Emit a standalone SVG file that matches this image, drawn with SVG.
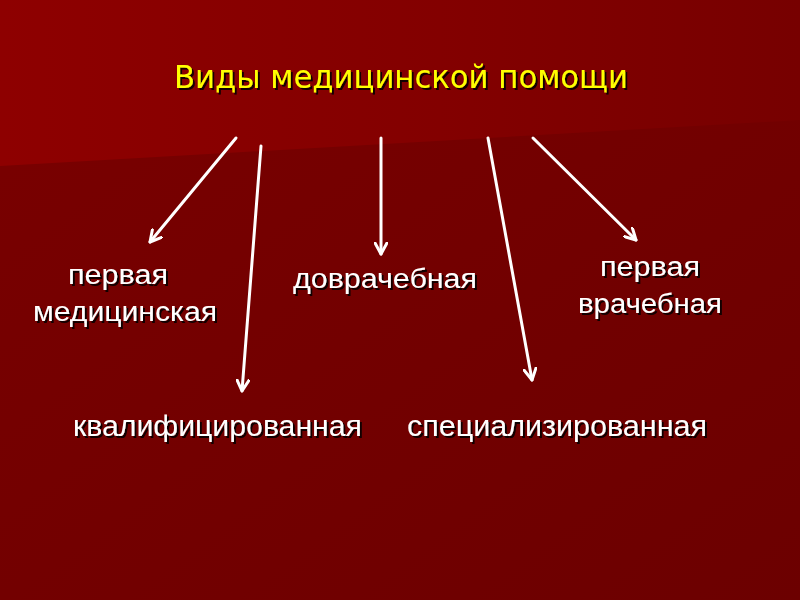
<svg xmlns="http://www.w3.org/2000/svg" width="800" height="600" viewBox="0 0 800 600">
<defs>
<linearGradient id="bg" x1="0" y1="0" x2="1" y2="1">
<stop offset="0" stop-color="#7a0000"/>
<stop offset="1" stop-color="#6c0000"/>
</linearGradient>
<linearGradient id="band" x1="0" y1="0" x2="1" y2="0">
<stop offset="0" stop-color="#8e0000"/>
<stop offset="0.55" stop-color="#830000"/>
<stop offset="1" stop-color="#770000"/>
</linearGradient>
<filter id="sh" x="-10%" y="-30%" width="120%" height="160%">
<feDropShadow dx="2" dy="2" stdDeviation="0.6" flood-color="#000" flood-opacity="0.85"/>
</filter>
<marker id="ah" markerWidth="14" markerHeight="14" refX="12" refY="7" orient="auto" markerUnits="userSpaceOnUse">
<path d="M1,1 L12,7 L1,13" fill="none" stroke="#fff" stroke-width="3" stroke-linecap="round" stroke-linejoin="round"/>
</marker>
<style>
.t{font-family:"Liberation Sans",Arial,sans-serif;font-size:27px;fill:#fff;filter:url(#sh)}
.b{font-size:30px}
.title{font-family:"DejaVu Sans Condensed","DejaVu Sans",Tahoma,sans-serif;font-size:32px;fill:#ffff00;filter:url(#sh)}
.c line{stroke:#fff;stroke-width:3;stroke-linecap:round;marker-end:url(#ah)}
</style>
</defs>
<rect width="800" height="600" fill="url(#bg)"/>
<polygon points="0,0 800,0 800,120 0,166" fill="url(#band)"/>
<g id="title"><text class="title" x="174" y="88" textLength="454" lengthAdjust="spacingAndGlyphs">Виды медицинской помощи</text></g>
<g class="c" id="connectors">
<line x1="236" y1="138" x2="150" y2="242"/>
<line x1="261" y1="146" x2="242" y2="391"/>
<line x1="381" y1="138" x2="381" y2="254"/>
<line x1="488" y1="138" x2="532" y2="380"/>
<line x1="533" y1="138" x2="636" y2="240"/>
</g>
<g id="n1"><text class="t" x="68" y="284" textLength="100" lengthAdjust="spacingAndGlyphs">первая</text><text class="t" x="33" y="321" textLength="184" lengthAdjust="spacingAndGlyphs">медицинская</text></g>
<g id="n2"><text class="t b" x="73" y="436" textLength="289" lengthAdjust="spacingAndGlyphs">квалифицированная</text></g>
<g id="n3"><text class="t" x="293" y="288" textLength="184" lengthAdjust="spacingAndGlyphs">доврачебная</text></g>
<g id="n4"><text class="t b" x="407" y="436" textLength="300" lengthAdjust="spacingAndGlyphs">специализированная</text></g>
<g id="n5"><text class="t" x="600" y="276" textLength="100" lengthAdjust="spacingAndGlyphs">первая</text><text class="t" x="578" y="313" textLength="144" lengthAdjust="spacingAndGlyphs">врачебная</text></g>
</svg>
